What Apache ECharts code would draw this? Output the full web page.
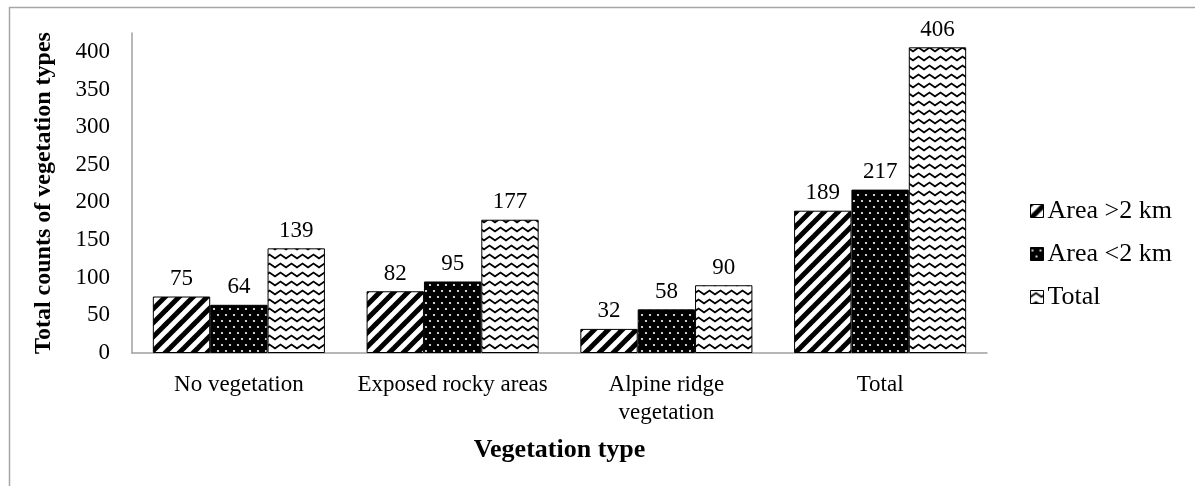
<!DOCTYPE html>
<html>
<head>
<meta charset="utf-8">
<script src="https://cdn.jsdelivr.net/npm/echarts@6/dist/echarts.min.js"></script>
<style>
html,body{margin:0;padding:0;background:#fff;}
#chart{width:1195px;height:486px;}
</style>
</head>
<body>
<div id="chart"></div>
<script>
const categories = ['No vegetation', 'Exposed rocky areas', 'Alpine ridge\nvegetation', 'Total'];
const seriesNames = ['Area >2 km', 'Area <2 km', 'Total'];
const areaOver2 = [75, 82, 32, 189];
const areaUnder2 = [64, 95, 58, 217];
const totals = [139, 177, 90, 406];
const yTicks = [0, 50, 100, 150, 200, 250, 300, 350, 400];

function makeTile(w, h, draw) {
  const c = document.createElement('canvas');
  c.width = w; c.height = h;
  const ctx = c.getContext('2d');
  draw(ctx, w, h);
  return c;
}
const stripeTile = makeTile(14, 14, (ctx, w, h) => {
  ctx.fillStyle = '#fff'; ctx.fillRect(0, 0, w, h);
  ctx.strokeStyle = '#000'; ctx.lineWidth = 5;
  [0, w, 2 * w].forEach(c => {
    ctx.beginPath();
    ctx.moveTo(-5, c + 5);
    ctx.lineTo(w + 5, c - w - 5);
    ctx.stroke();
  });
});
const dotTile = makeTile(8, 12, (ctx, w, h) => {
  ctx.fillStyle = '#000'; ctx.fillRect(0, 0, w, h);
  ctx.fillStyle = '#fff';
  ctx.beginPath(); ctx.arc(2, 3, 1.1, 0, Math.PI * 2); ctx.fill();
  ctx.beginPath(); ctx.arc(6, 9, 1.1, 0, Math.PI * 2); ctx.fill();
});
const zigTile = makeTile(11, 9, (ctx, w, h) => {
  ctx.fillStyle = '#fff'; ctx.fillRect(0, 0, w, h);
  ctx.strokeStyle = '#000'; ctx.lineWidth = 1.8;
  ctx.beginPath();
  ctx.moveTo(-1, 7); ctx.lineTo(5.5, 2.5); ctx.lineTo(12, 7);
  ctx.stroke();
});

const fontFam = '"Liberation Serif", "Times New Roman", serif';
const patterns = [stripeTile, dotTile, zigTile];
const values = [areaOver2, areaUnder2, totals];

const chart = echarts.init(document.getElementById('chart'), null, {renderer: 'canvas'});
chart.setOption({
  backgroundColor: '#fff',
  animation: false,
  graphic: [{
    type: 'rect', z: -1,
    shape: {x: 9.5, y: 7.5, width: 1400, height: 700},
    style: {fill: 'none', stroke: '#a6a6a6', lineWidth: 1.5}
  }],
  grid: {left: 132, top: 33, right: 208, bottom: 133},
  legend: {
    orient: 'vertical',
    left: 1025, top: 193,
    icon: 'rect',
    itemWidth: 13, itemHeight: 13,
    itemGap: 17,
    itemStyle: {borderColor: '#000', borderWidth: 1},
    textStyle: {fontFamily: fontFam, fontSize: 26, color: '#000', padding: [0, 0, 0, -1]},
    data: seriesNames
  },
  xAxis: {
    type: 'category',
    data: categories,
    name: 'Vegetation type',
    nameLocation: 'middle',
    nameGap: 84,
    nameTextStyle: {fontFamily: fontFam, fontSize: 26, fontWeight: 'bold', color: '#000'},
    axisLine: {lineStyle: {color: '#a0a0a0', width: 1.5}},
    axisTick: {show: false},
    axisLabel: {fontFamily: fontFam, fontSize: 23, color: '#000', margin: 18, lineHeight: 28, interval: 0}
  },
  yAxis: {
    type: 'value',
    min: 0, max: 425, interval: 50,
    name: 'Total counts of vegetation types',
    nameLocation: 'middle',
    nameGap: 76,
    nameRotate: 90,
    nameTextStyle: {fontFamily: fontFam, fontSize: 24, fontWeight: 'bold', color: '#000'},
    splitLine: {show: false},
    axisLine: {show: true, lineStyle: {color: '#a0a0a0', width: 1.5}},
    axisTick: {show: false},
    axisLabel: {
      fontFamily: fontFam, fontSize: 23, color: '#000', margin: 22,
      formatter: v => (yTicks.indexOf(v) >= 0 ? String(v) : '')
    }
  },
  series: seriesNames.map((name, i) => ({
    name: name,
    type: 'bar',
    data: values[i],
    barGap: '0%',
    barCategoryGap: '19.5%',
    itemStyle: {
      color: {image: patterns[i], repeat: 'repeat'},
      borderColor: '#000',
      borderWidth: 1
    },
    label: {
      show: true, position: 'top', distance: 6,
      fontFamily: fontFam, fontSize: 23, color: '#000'
    }
  }))
});
</script>
</body>
</html>
